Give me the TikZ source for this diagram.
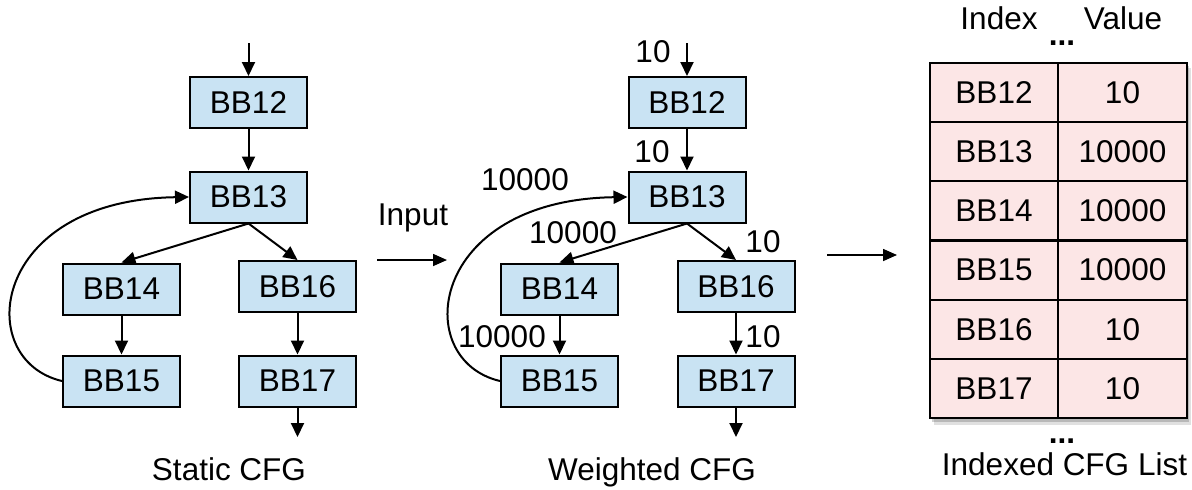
\documentclass[tikz,border=0pt]{standalone}
\usepackage{fontspec}
\setmainfont{Liberation Sans}
\usetikzlibrary{arrows.meta}
\definecolor{bbblue}{HTML}{C9E3F3}
\definecolor{cellpink}{HTML}{FCE6E6}
\begin{document}
\begin{tikzpicture}[x=1pt,y=-1pt,
  every node/.style={font=\fontsize{31.5}{36}\selectfont, inner sep=0pt},
  bb/.style={draw=black, line width=2pt, fill=bbblue, minimum width=117pt, minimum height=51pt},
  cell/.style={draw=black, line width=2pt, fill=cellpink, minimum width=128pt, minimum height=59pt},
  edge/.style={line width=2pt, -{Triangle[length=14pt,width=13pt]}},
  flow/.style={line width=1.6pt, -{Triangle[length=14pt,width=12pt]}},
  caption/.style={anchor=base}]
\useasboundingbox (0,0) rectangle (1192,490);

% ---- static CFG ----
\node[bb] (a12) at (248.5,102.5) {BB12};
\node[bb] (a13) at (248.5,197) {BB13};
\node[bb] (a14) at (121.5,289) {BB14};
\node[bb] (a16) at (297.5,286.5) {BB16};
\node[bb] (a15) at (121.5,381) {BB15};
\node[bb] (a17) at (297.5,381) {BB17};
\coordinate (ain) at (248.5,43);
\coordinate (aout) at (297.5,437);
\draw[edge] (ain) -- (a12.north);
\draw[edge] (a12) -- (a13);
\draw[edge] (a13.south) -- (a14.north);
\draw[edge] (a13.south) -- (a16.north);
\draw[edge] (a14) -- (a15);
\draw[edge] (a16) -- (a17);
\draw[edge] (a17.south) -- (aout);
\draw[edge] (a15.west) .. controls (-28,360) and (-10,200) .. (a13.west);
\node[caption] (s1) at (229,480) {Static CFG};

% ---- input arrow ----
\node (inp) at (413,218) {Input};
\coordinate (i1) at (377,260);
\coordinate (i2) at (447,260);
\draw[flow] (i1) -- (i2);

% ---- weighted CFG ----
\node[bb] (b12) at (687,102.5) {BB12};
\node[bb] (b13) at (687,197) {BB13};
\node[bb] (b14) at (559.5,289) {BB14};
\node[bb] (b16) at (736,286.5) {BB16};
\node[bb] (b15) at (559.5,381) {BB15};
\node[bb] (b17) at (736,381) {BB17};
\coordinate (bin) at (687,43);
\coordinate (bout) at (736,437);
\draw[edge] (bin) -- (b12.north);
\draw[edge] (b12) -- (b13);
\draw[edge] (b13.south) -- (b14.north);
\draw[edge] (b13.south) -- (b16.north);
\draw[edge] (b14) -- (b15);
\draw[edge] (b16) -- (b17);
\draw[edge] (b17.south) -- (bout);
\draw[edge] (b15.west) .. controls (410,360) and (428,200) .. (b13.west);
\node (w1) at (653,52) {10};
\node (w2) at (652,152) {10};
\node (w3) at (525,180) {10000};
\node (w4) at (573,233) {10000};
\node (w5) at (763,242) {10};
\node (w6) at (502,337) {10000};
\node (w7) at (763,337) {10};
\node[caption] (s2) at (652,480) {Weighted CFG};

% ---- arrow to list ----
\coordinate (o1) at (827,255);
\coordinate (o2) at (897,255);
\draw[flow] (o1) -- (o2);

% ---- indexed CFG list ----
\fill[black, opacity=0.12] (934,68) rectangle (1191,425);
\fill[black, opacity=0.18] (932,66) rectangle (1189,422);
\node (hi) at (999,18) {Index};
\node (hv) at (1123,18) {Value};
\node (d1) at (1062,43) {\textbf{...}};
\foreach \r/\idx/\val [count=\k] in {0/BB12/10,1/BB13/10000,2/BB14/10000,3/BB15/10000,4/BB16/10,5/BB17/10}{
  \node[cell] (ci\k) at (994,92.5+59.2*\r) {\idx};
  \node[cell, minimum width=129pt] (cv\k) at (1122.5,92.5+59.2*\r) {\val};
}
\node (d2) at (1062,441) {\textbf{...}};
\node[caption] (s3) at (1064.5,475) {Indexed CFG List};
\end{tikzpicture}
\end{document}
